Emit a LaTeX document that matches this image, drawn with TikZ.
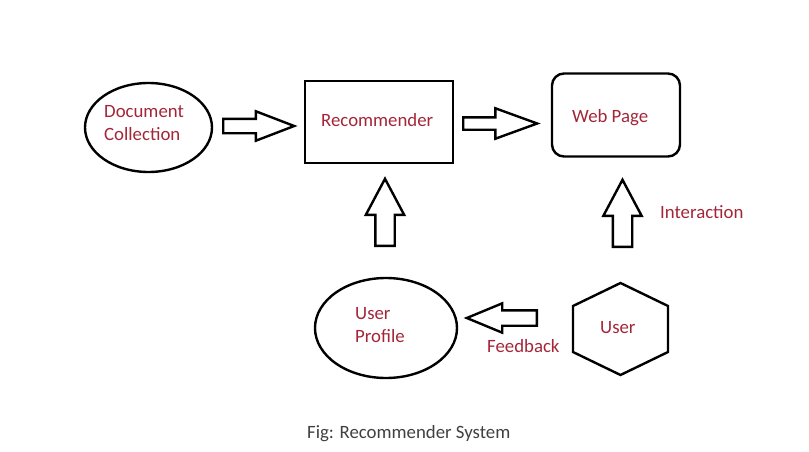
\documentclass[tikz,border=0pt]{standalone}
\usepackage{fontspec}
\setmainfont{Carlito}
\usetikzlibrary{shapes.geometric,shapes.arrows}
\definecolor{lblred}{RGB}{163,38,56}
\definecolor{capgray}{RGB}{64,64,64}
\tikzset{
  box/.style={draw, line width=2.4pt, inner sep=0pt},
  fatarrow/.style={single arrow, draw, line width=2.4pt, anchor=tail,
    single arrow head indent=0pt},
  lbl/.style={text=lblred, anchor=base west, inner sep=0pt, align=left},
}
\begin{document}
\begin{tikzpicture}[x=1pt, y=-1pt, font=\fontsize{18.8}{23}\selectfont]
  \useasboundingbox (0,0) rectangle (809,452);
  % Kaesten
  \node[box, ellipse, minimum width=127, minimum height=89] (doc) at (148.5,127.5) {};
  \node[box, rectangle, minimum width=148, minimum height=82] (rec) at (379,122) {};
  \node[box, rectangle, rounded corners=12pt, minimum width=128, minimum height=83] (web) at (616,115) {};
  \node[box, ellipse, minimum width=142, minimum height=100] (prof) at (386,328) {};
  \node[box, regular polygon, regular polygon sides=6, minimum size=92,
        xscale=1.193, rotate=90] (user) at (620.5,329) {};
  % Blockpfeile
  \node[fatarrow, minimum height=71, inner sep=6pt, single arrow head extend=7.5pt,
        single arrow tip angle=42] (a1) at (222,126) {};
  \node[fatarrow, minimum height=74, inner sep=5pt, single arrow head extend=9pt,
        single arrow tip angle=40] (a2) at (462,123.5) {};
  \foreach \x/\y/\n in {385/247/up1, 622.5/248/up2}
    \node[fatarrow, rotate=90, minimum height=67, inner sep=8.5pt,
          single arrow head extend=9.5pt, single arrow tip angle=56] (\n) at (\x,\y) {};
  \node[fatarrow, rotate=180, minimum height=70, inner sep=6.5pt, single arrow head extend=7pt,
        single arrow tip angle=45] (a3) at (538,318) {};
  % Beschriftungen
  \node[lbl] (doctxt) at (104,140) {Document\\Collection};
  \node[lbl] (rectxt) at (321,126.5) {Recommender};
  \node[lbl] (webtxt) at (572,122) {Web Page};
  \node[lbl] (proftxt) at (355,342) {User\\Profile};
  \node[lbl] (usrtxt) at (600,333) {User};
  \node[lbl] (fbtxt) at (487,352) {Feedback};
  \node[lbl] (inttxt) at (660,218) {Interaction};
  \node[text=capgray, anchor=base west, inner sep=0pt] (cap) at (307,438) {Fig: Recommender System};
\end{tikzpicture}
\end{document}
